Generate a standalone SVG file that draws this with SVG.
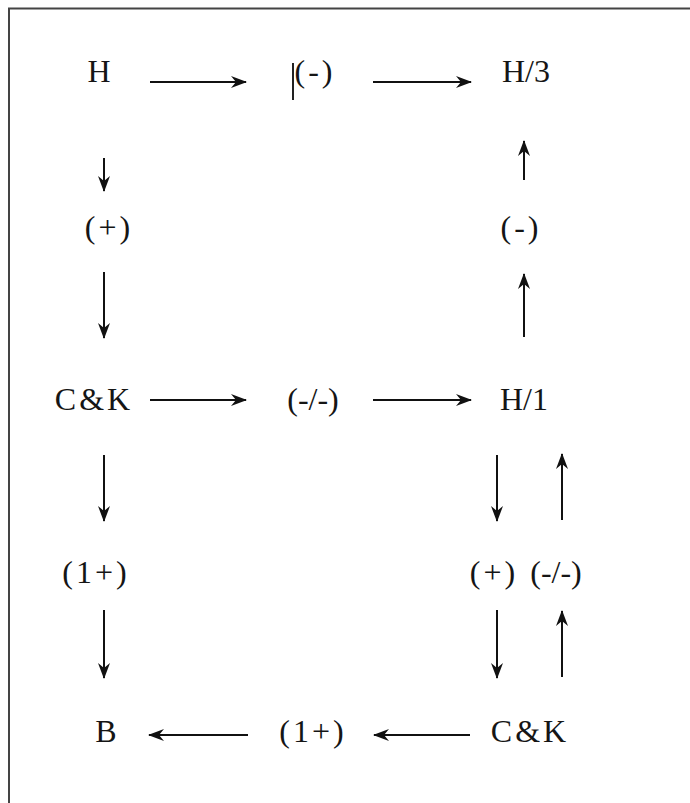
<svg xmlns="http://www.w3.org/2000/svg" width="690" height="803" viewBox="0 0 690 803">
<defs>
<marker id="ah" viewBox="0 0 16 12" refX="15" refY="6" markerWidth="16" markerHeight="12" markerUnits="userSpaceOnUse" orient="auto">
<path d="M0,0 L16,6 L0,12 L5,6 Z" fill="#111"/>
</marker>
<style>
text{font-family:"Liberation Serif","Times New Roman",serif;font-size:32px;fill:#151515;text-anchor:middle}
.p{letter-spacing:3px}
.c{stroke:#111;stroke-width:2;fill:none;marker-end:url(#ah)}
</style>
</defs>
<rect x="0" y="0" width="690" height="803" fill="#fff"/>
<rect x="9" y="8.5" width="700" height="820" fill="none" stroke="#444" stroke-width="2"/>
<g id="connectors">
<path class="c" d="M150,82 H246"/>
<path class="c" d="M373,82 H471"/>
<path class="c" d="M104,158 V191"/>
<path class="c" d="M104,272 V338"/>
<path class="c" d="M524,180 V141"/>
<path class="c" d="M524,337 V274"/>
<path class="c" d="M150,400 H246"/>
<path class="c" d="M373,400 H471"/>
<path class="c" d="M104,455 V521"/>
<path class="c" d="M104,610 V678"/>
<path class="c" d="M497,455 V521"/>
<path class="c" d="M562,520 V454"/>
<path class="c" d="M497,610 V678"/>
<path class="c" d="M562,677 V611"/>
<path class="c" d="M248,735 H149"/>
<path class="c" d="M470,735 H374"/>
</g>
<g id="n-H"><text x="99" y="82">H</text></g>
<g id="n-minus1"><line x1="293" y1="63" x2="293" y2="100" stroke="#222" stroke-width="2"/><text class="p" x="315" y="82">(-)</text></g>
<g id="n-H3"><text x="526" y="82">H/3</text></g>
<g id="n-plus1"><text class="p" x="109" y="238">(+)</text></g>
<g id="n-minus2"><text class="p" x="521" y="238">(-)</text></g>
<g id="n-CK1"><text x="94" y="410" letter-spacing="3">C&amp;K</text></g>
<g id="n-mm1"><text x="313" y="410">(-/-)</text></g>
<g id="n-H1"><text x="524" y="410">H/1</text></g>
<g id="n-1plus1"><text class="p" x="96" y="583">(1+)</text></g>
<g id="n-plus2"><text class="p" x="494" y="583">(+)</text></g>
<g id="n-mm2"><text x="556" y="583">(-/-)</text></g>
<g id="n-B"><text x="106" y="742">B</text></g>
<g id="n-1plus2"><text class="p" x="313" y="742">(1+)</text></g>
<g id="n-CK2"><text x="530" y="742" letter-spacing="3">C&amp;K</text></g>
</svg>
